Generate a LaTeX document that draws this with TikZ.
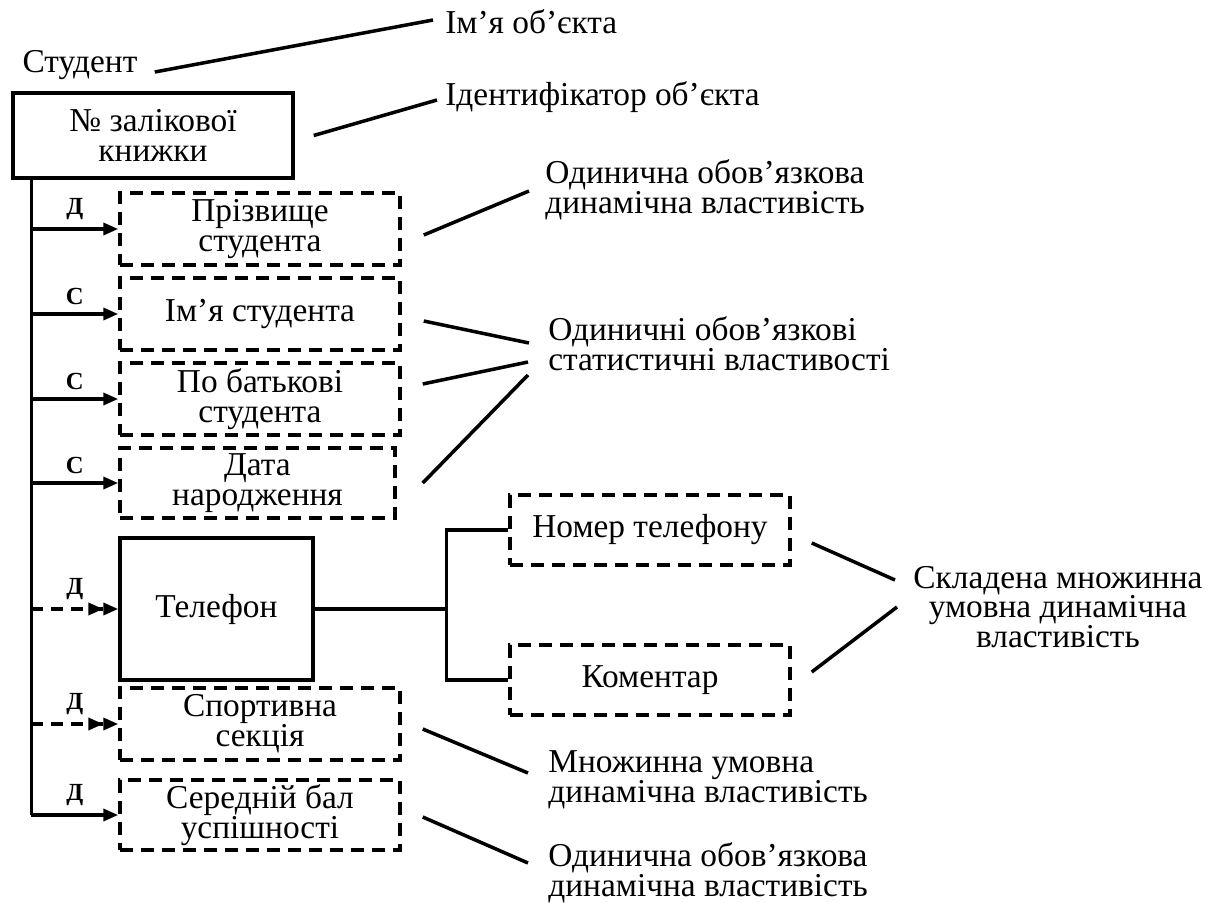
\documentclass[tikz,border=0pt]{standalone}
\usepackage{fontspec}
\setmainfont{Liberation Serif}
\usepackage{tikz}
\usetikzlibrary{calc}
\usetikzlibrary{arrows.meta}
\usetikzlibrary{positioning}
\tikzset{
	idbox/.style={
		draw, line width=2pt, align=center, inner sep=0pt
	},
	propbox/.style={
		draw, line width=2pt, dash pattern=on 0.26cm off 0.16cm,
		align=center, inner sep=0pt, minimum width=5.6cm, minimum height=1.44cm
	},
	note/.style={
		inner sep=0pt, anchor=west, align=left
	},
	kindlbl/.style={
		font=\fontsize{14}{16}\selectfont\bfseries, inner sep=1pt
	},
	link/.style={
		line width=2pt
	},
	must to/.style={
		link, -{Triangle[length=0.3cm, width=0.24cm]}
	},
	maybe to/.style={
		link, dash pattern=on 0.24cm off 0.16cm,
		-{Triangle[length=0.3cm, width=0.24cm]Triangle[length=0.3cm, width=0.24cm]}
	}
}

\begin{document}
\begin{tikzpicture}[x=0.02cm, y=-0.02cm, every node/.style={font=\fontsize{19}{17}\selectfont}]
	\useasboundingbox (0,0) rectangle (1221,903);

	% object and its key
	\node[inner sep=0pt] (student) at (80,65) {Студент};
	\node[idbox, minimum width=5.6cm, minimum height=1.7cm] (key) at (153,135.5) {№ залікової\\книжки};

	% properties
	\node[propbox] (surname) at (260,229) {Прізвище\\студента};
	\node[propbox] (fname) at (260,314) {Ім’я студента};
	\node[propbox] (patr) at (260,399) {По батькові\\студента};
	\node[propbox, minimum width=5.5cm, minimum height=1.4cm] (birth) at (257.5,483) {Дата\\народження};
	\node[idbox, minimum width=3.86cm, minimum height=2.84cm] (phone) at (216.5,609) {Телефон};
	\node[propbox] (sport) at (260,724) {Спортивна\\секція};
	\node[propbox, minimum height=1.4cm] (avg) at (260,815) {Середній бал\\успішності};
	\node[propbox, minimum height=1.4cm] (num) at (650,530) {Номер телефону};
	\node[propbox, minimum height=1.4cm] (comm) at (650,680) {Коментар};

	% descriptions
	\node[note] (namelbl) at (445,22) {Ім’я об’єкта};
	\node[note] (idlbl) at (445,97) {Ідентифікатор об’єкта};
	\node[note] (dyn1) at (545,190) {Одинична обов’язкова\\динамічна властивість};
	\node[note] (stat) at (548,344) {Одиничні обов’язкові\\статистичні властивості};
	\node[note, align=center] (comp) at (913,607) {Складена множинна\\умовна динамічна\\властивість};
	\node[note] (multi) at (548,780) {Множинна умовна\\динамічна властивість};
	\node[note] (dyn2) at (548,873) {Одинична обов’язкова\\динамічна властивість};

	% trunk and arrows
	\coordinate (trunk) at ([xshift=0.4cm]key.south west);
	\draw[link] (trunk) -- (trunk |- avg.west);
	\foreach \prop/\kind in {surname/Д, fname/С, patr/С, birth/С, avg/Д}
		\draw[must to] (trunk |- \prop.west) -- (\prop.west) node[kindlbl, midway, above=3pt] {\kind};
	\foreach \prop in {phone, sport}
		\draw[maybe to] (trunk |- \prop.west) -- (\prop.west) node[kindlbl, midway, above=3pt] {Д};

	% phone parts
	\coordinate (fork) at ([xshift=2.64cm]phone.east);
	\draw[link] (phone.east) -- (fork);
	\draw[link] (num.west) -| (fork) |- (comm.west);

	% description links
	\draw[link] ($(student.east)+(17,7)$) -- ($(namelbl.west)+(-12,-2)$);
	\draw[link] ($(key.east)+(19,0)$) -- ($(idlbl.west)+(-8,3)$);
	\draw[link] ($(surname.east)+(22,6)$) -- ($(dyn1.west)+(-16,1)$);
	\draw[link] ($(fname.east)+(22,7)$) -- ($(stat.west)+(-19,-1)$);
	\draw[link] ($(patr.east)+(21,-15)$) -- ($(stat.west)+(-20,18)$);
	\draw[link] ($(birth.east)+(26,0)$) -- ($(stat.west)+(-20,31)$);
	\draw[link] ($(num.east)+(20,13)$) -- ($(comp.west)+(-18,-27)$);
	\draw[link] ($(comm.east)+(20,-8)$) -- ($(comp.west)+(-16,0)$);
	\draw[link] ($(sport.east)+(21,5)$) -- ($(multi.west)+(-20,-7)$);
	\draw[link] ($(avg.east)+(21,2)$) -- ($(dyn2.west)+(-20,-10)$);
\end{tikzpicture}
\end{document}
